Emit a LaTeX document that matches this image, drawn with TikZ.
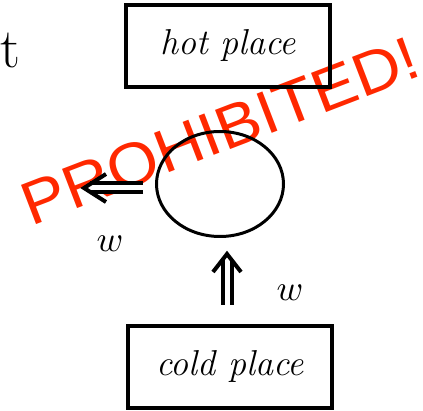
\documentclass[tikz,border=0pt]{standalone}
\usepackage{fontspec}
\usepackage{graphicx}
\newfontfamily\stampfont[FakeStretch=1.08]{Liberation Sans}
\usetikzlibrary{shapes.geometric}
\definecolor{stampred}{RGB}{255,40,0}
\tikzset{
  placebox/.style={draw, line width=4pt, minimum width=204pt, minimum height=82pt, inner sep=0pt, font=\fontsize{36}{43}\selectfont\itshape},
  engine/.style={draw, ellipse, line width=3pt, minimum width=127pt, minimum height=105pt, inner sep=0pt},
  shaft/.style={double, line width=4pt, double distance=5pt},
  head/.style={line width=4pt, miter limit=10},
  lbl/.style={inner sep=0pt},
}
\begin{document}
\begin{tikzpicture}[x=1pt,y=-1pt]
\useasboundingbox (0,0) rectangle (423,411);
\node[text=stampred, rotate=21, font=\fontsize{61}{70}\stampfont, inner sep=0pt] (stamp) at (220,131) {PROHIBITED!};
\node[placebox] (hot) at (228,46) {hot place};
\node[placebox] (cold) at (230,367) {cold place};
\node[engine] (e) at (220,184) {};
\node[lbl, anchor=base west, font=\fontsize{56}{60}\selectfont] (t) at (0,68) {t};
% left arrow
\coordinate (wl) at (84,188);
\draw[shaft] ([xshift=-12pt]e.west |- wl) -- ([xshift=6pt]wl);
\draw[head] ([shift={(22,-14)}]wl) -- (wl) -- ([shift={(22,14)}]wl);
% up arrow
\coordinate (wu) at (227,254);
\draw[shaft] (cold.north -| wu) ++(0,-19) -- ([yshift=-6pt]wu);
\draw[head] ([shift={(-14,18)}]wu) -- (wu) -- ([shift={(14,18)}]wu);
\node[lbl] (w1) at (110,244) {\scalebox{3.6}{$w$}};
\node[lbl] (w2) at (290,293) {\scalebox{3.6}{$w$}};
\end{tikzpicture}
\end{document}
